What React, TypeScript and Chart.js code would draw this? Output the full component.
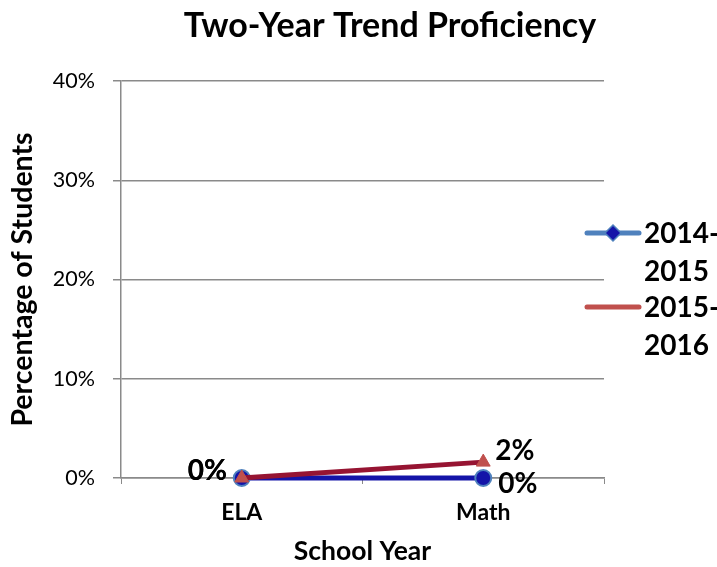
import React, { useEffect, useRef } from "react";
import { Chart, registerables } from "chart.js";

Chart.register(...registerables);

const categories = ["ELA", "Math"];
const seriesNames = ["2014-2015", "2015-2016"];
const values2014to2015 = [0, 0];
const values2015to2016 = [0, 1.6];
const yTickValues = [0, 10, 20, 30, 40];
const titleText = "Two-Year Trend Proficiency";
const xAxisTitle = "School Year";
const yAxisTitle = "Percentage of Students";
const legendLabelLines = [
  ["2014-", "2015"],
  ["2015-", "2016"],
];

const GRID = "#8a8a8a";
const BLUE_LINE = "#1414a8";
const BLUE_EDGE = "#4f81bd";
const RED_LINE = "#961432";
const RED_MARK = "#c0504d";
const FONT = "Lato";

const overlayPlugin = {
  id: "overlay",
  afterDatasetsDraw(chart: any) {
    const ctx = chart.ctx;
    ctx.save();
    ctx.fillStyle = "#000";
    ctx.font = `bold 28px ${FONT}`;
    ctx.textAlign = "left";
    ctx.textBaseline = "alphabetic";
    // label offsets relative to each point: [dx, dy]
    const offsets = [
      [[-54, 2], [15, 15]],
      [[-54, 2], [12, -2]],
    ];
    chart.data.datasets.forEach((ds: any, di: number) => {
      const meta = chart.getDatasetMeta(di);
      const setIdx = ds.seriesIndex;
      meta.data.forEach((pt: any, j: number) => {
        const v = ds.data[j];
        const [dx, dy] = offsets[setIdx][j];
        ctx.fillText(Math.round(v) + "%", pt.x + dx, pt.y + dy);
      });
    });
    ctx.restore();
  },
  afterDraw(chart: any) {
    const ctx = chart.ctx;
    ctx.save();
    // title
    ctx.fillStyle = "#000";
    ctx.font = `bold 34px ${FONT}`;
    ctx.textAlign = "center";
    ctx.textBaseline = "alphabetic";
    ctx.fillText(titleText, 390, 37, 422);

    // legend
    const entries = [
      { y: 233, color: BLUE_EDGE, marker: true },
      { y: 307, color: RED_MARK, marker: false },
    ];
    entries.forEach((e, i) => {
      ctx.strokeStyle = e.color;
      ctx.lineWidth = 5;
      ctx.lineCap = "round";
      ctx.beginPath();
      ctx.moveTo(587, e.y);
      ctx.lineTo(639, e.y);
      ctx.stroke();
      if (e.marker) {
        ctx.fillStyle = BLUE_LINE;
        ctx.strokeStyle = BLUE_EDGE;
        ctx.lineWidth = 1.5;
        ctx.beginPath();
        ctx.moveTo(613, e.y - 8);
        ctx.lineTo(621, e.y);
        ctx.lineTo(613, e.y + 8);
        ctx.lineTo(605, e.y);
        ctx.closePath();
        ctx.fill();
        ctx.stroke();
      }
      ctx.fillStyle = "#000";
      ctx.font = `bold 28px ${FONT}`;
      ctx.textAlign = "left";
      ctx.fillText(legendLabelLines[i][0], 644, e.y + 10);
      ctx.fillText(legendLabelLines[i][1], 644, e.y + 48);
    });
    ctx.restore();
  },
};

export default function App() {
  const canvasRef = useRef<HTMLCanvasElement | null>(null);

  useEffect(() => {
    document.body.style.margin = "0";
    const canvas = canvasRef.current;
    if (!canvas) return;
    const chart = new Chart(canvas, {
      type: "line",
      data: {
        labels: categories,
        datasets: [
          {
            label: seriesNames[1],
            seriesIndex: 1,
            data: values2015to2016,
            borderColor: RED_LINE,
            backgroundColor: RED_MARK,
            borderWidth: 5,
            pointStyle: "triangle",
            pointRadius: 8,
            pointBorderWidth: 1,
            pointBackgroundColor: RED_MARK,
            pointBorderColor: RED_MARK,
            clip: false,
            order: 0,
          } as any,
          {
            label: seriesNames[0],
            seriesIndex: 0,
            data: values2014to2015,
            borderColor: BLUE_LINE,
            backgroundColor: BLUE_LINE,
            borderWidth: 5,
            pointStyle: "circle",
            pointRadius: 8,
            pointBorderWidth: 2,
            pointBackgroundColor: BLUE_LINE,
            pointBorderColor: BLUE_EDGE,
            clip: false,
            order: 1,
          } as any,
        ],
      },
      options: {
        responsive: true,
        maintainAspectRatio: false,
        animation: false,
        layout: { padding: { left: 0, right: 113, top: 81, bottom: 0 } },
        plugins: {
          legend: { display: false },
          title: { display: false },
          tooltip: { enabled: false },
        },
        scales: {
          x: {
            type: "category",
            offset: true,
            grid: {
              display: true,
              drawOnChartArea: false,
              drawTicks: true,
              tickLength: 6,
              offset: true,
              color: GRID,
              lineWidth: 1,
            },
            border: { display: true, color: GRID, width: 1.5 },
            ticks: {
              padding: 15,
              color: "#000",
              font: { family: FONT, size: 23, weight: "bold" },
            },
            title: {
              display: true,
              text: xAxisTitle,
              color: "#000",
              font: { family: FONT, size: 26.5, weight: "bold" },
              padding: { top: 0, bottom: 0 },
            },
            afterFit: (s: any) => {
              s.height = 89;
            },
          },
          y: {
            min: 0,
            max: 40,
            afterBuildTicks: (s: any) => {
              s.ticks = yTickValues.map((v) => ({ value: v }));
            },
            ticks: {
              padding: 18,
              color: "#000",
              font: { family: FONT, size: 21.5 },
              callback: (v: any) => v + "%",
            },
            grid: { color: GRID, tickLength: 8, lineWidth: 1.5 },
            border: { display: true, color: GRID, width: 1.5 },
            title: {
              display: true,
              text: yAxisTitle,
              color: "#000",
              font: { family: FONT, size: 28.5, weight: "bold" },
              padding: { top: 6, bottom: 0 },
            },
            afterFit: (s: any) => {
              s.width = 121;
            },
          },
        },
      } as any,
      plugins: [overlayPlugin],
    });
    return () => chart.destroy();
  }, []);

  return (
    <div style={{ position: "relative", width: 717, height: 567 }}>
      <canvas ref={canvasRef} />
    </div>
  );
}
